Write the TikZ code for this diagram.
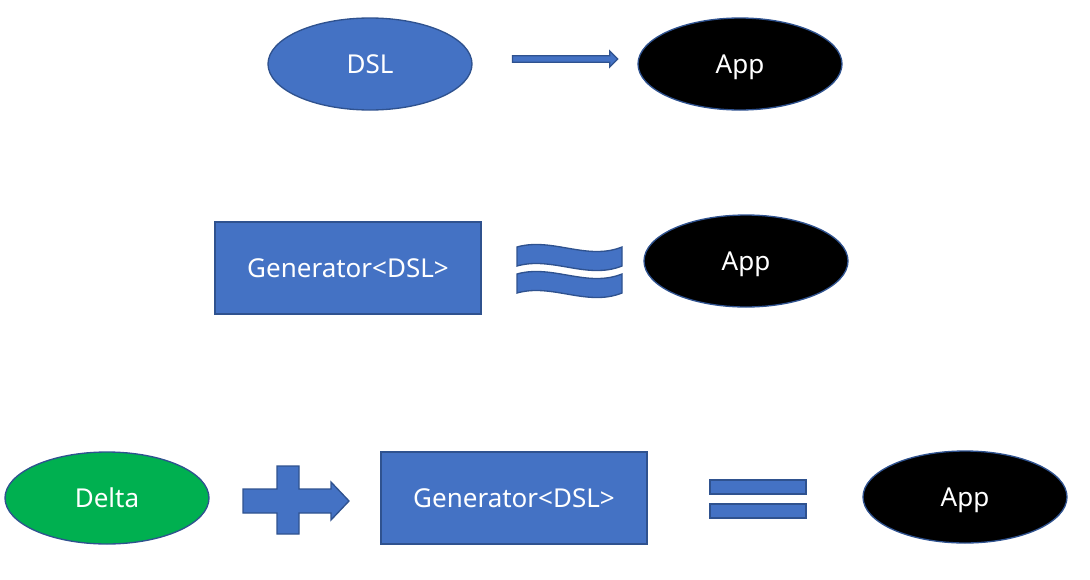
\documentclass[tikz,border=0pt]{standalone}
\usepackage{fontspec}
\setmainfont{Noto Sans}
\usetikzlibrary{shapes.geometric,shapes.arrows}
\definecolor{boxblue}{HTML}{4472C4}
\definecolor{edgeblue}{HTML}{2F528F}
\definecolor{deltagreen}{HTML}{00B050}
\tikzset{
  blob/.style={ellipse,draw=edgeblue,line width=1pt,minimum width=153pt,minimum height=69pt,inner sep=0pt,text=white,font=\fontsize{19.5}{22}\selectfont,text height=14pt,text depth=0pt},
  genbox/.style={rectangle,draw=edgeblue,fill=boxblue,line width=1pt,minimum width=199.5pt,minimum height=69pt,inner sep=0pt,text=white,font=\fontsize{19.5}{22}\selectfont,text height=14pt,text depth=0pt},
  shapefill/.style={draw=edgeblue,fill=boxblue,line width=1pt,line join=miter}
}
\begin{document}
\begin{tikzpicture}[x=0.75pt,y=-0.75pt]
\useasboundingbox (0,0) rectangle (1090,579);
% row 1
\node[blob,fill=boxblue] (dsl) at (370,64) {DSL};
\node[blob,fill=black] (appa) at (740,64) {App};
\node[single arrow,shapefill,minimum height=79pt,minimum width=12pt,single arrow head extend=3pt,single arrow tip angle=90,inner sep=1.5pt] (toarrow) at (563.5,59) {};
% row 2
\node[genbox] (gena) at (348,268) {Generator<DSL>};
\node[blob,fill=black] (appb) at (746,261) {App};
\draw[shapefill] (517,247) .. controls (552,237) and (587,261) .. (622,247) -- (622,266) .. controls (587,280) and (552,256) .. (517,266) -- cycle;
\draw[shapefill] (517,274) .. controls (552,264) and (587,288) .. (622,274) -- (622,293) .. controls (587,307) and (552,283) .. (517,293) -- cycle;
% row 3
\node[blob,fill=deltagreen] (delta) at (107,498) {Delta};
\draw[shapefill] (243,489) -- (277,489) -- (277,466) -- (299,466) -- (299,489) -- (331,489) -- (331,482) -- (349,501) -- (331,520) -- (331,513) -- (299,513) -- (299,534) -- (277,534) -- (277,513) -- (243,513) -- cycle;
\node[genbox] (genb) at (514,498) {Generator<DSL>};
\draw[shapefill] (710,480) rectangle (806,494);
\draw[shapefill] (710,504) rectangle (806,518);
\node[blob,fill=black] (appc) at (965,497) {App};
\end{tikzpicture}
\end{document}
